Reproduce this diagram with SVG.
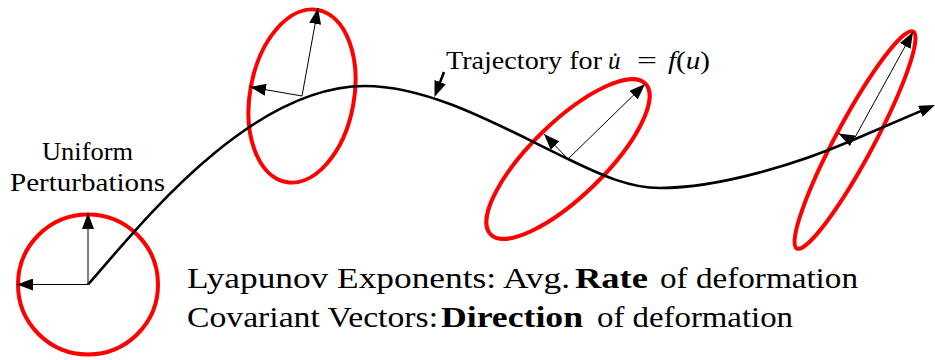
<svg xmlns="http://www.w3.org/2000/svg" width="935" height="360" viewBox="0 0 935 360">
<style>
.ell{fill:none;stroke:#ff0000;stroke-width:4}
.vec{stroke:#000;stroke-width:1;fill:none;marker-end:url(#ah)}
.traj{stroke:#000;stroke-width:2.6;fill:none;stroke-linecap:butt}
</style>
<defs>
<marker id="ah" viewBox="0 0 16 12" refX="16" refY="6" markerWidth="16" markerHeight="12" markerUnits="userSpaceOnUse" orient="auto"><path d="M0,0 L16,6 L0,12 Z" fill="#000"/></marker>
<marker id="ahk" viewBox="0 0 16 12" refX="10" refY="6" markerWidth="16" markerHeight="12" markerUnits="userSpaceOnUse" orient="auto"><path d="M0,0 L16,6 L0,12 Z" fill="#000"/></marker>
</defs>

<g id="perturb-circle">
<circle class="ell" cx="88" cy="284.5" r="70"/>
</g>
<g id="ellipse-2">
<ellipse class="ell" cx="302" cy="96" rx="52" ry="87.5" transform="rotate(10.4 302 96)"/>
</g>
<g id="ellipse-3">
<ellipse class="ell" cx="568" cy="159" rx="108" ry="37" transform="rotate(-44.2 568 159)"/>
</g>
<g id="ellipse-4">
<ellipse class="ell" cx="855" cy="140" rx="123" ry="19" transform="rotate(-61.8 855 140)"/>
</g>

<g id="connectors">
<path id="trajectory" class="traj" d="M88,284.5 C130,238 245,86 365,86 C430,86 500,126 568,159 C603,176 630,188 660,188 C720,188 800,163 853,140 L929.5,107.4" marker-end="url(#ahk)"/>
<line class="traj" x1="444" y1="72" x2="436.6" y2="91.4" marker-end="url(#ahk)"/>
</g>

<g id="vectors">
<line class="vec" x1="88" y1="284.5" x2="88" y2="213"/>
<line class="vec" x1="88" y1="284.5" x2="17" y2="284.5"/>
<line class="vec" x1="302" y1="96" x2="318" y2="8"/>
<line class="vec" x1="302" y1="96" x2="250" y2="87"/>
<line class="vec" x1="568" y1="159" x2="645" y2="84"/>
<line class="vec" x1="568" y1="159" x2="544" y2="134"/>
<line class="vec" x1="853" y1="141" x2="913" y2="32"/>
<line class="vec" x1="853" y1="141" x2="838.5" y2="133.5"/>
</g>

<g id="label-uniform">
<text x="42" y="160" font-size="25" font-family="'Liberation Serif', serif" textLength="91" lengthAdjust="spacingAndGlyphs">Uniform</text>
<text x="10" y="191" font-size="25" font-family="'Liberation Serif', serif" textLength="155" lengthAdjust="spacingAndGlyphs">Perturbations</text>
</g>

<g id="label-trajectory">
<text x="446" y="69.3" font-size="25" font-family="'Liberation Serif', serif" textLength="156" lengthAdjust="spacingAndGlyphs">Trajectory for</text>
<text x="608" y="69.3" font-size="25" font-family="'Liberation Serif', serif" font-style="italic">u&#775;</text>
<text x="637" y="69.3" font-size="25" font-family="'Liberation Serif', serif" textLength="20" lengthAdjust="spacingAndGlyphs">=</text>
<text x="668" y="69.3" font-size="25" font-family="'Liberation Serif', serif" textLength="42" lengthAdjust="spacingAndGlyphs"><tspan font-style="italic">f</tspan>(<tspan font-style="italic">u</tspan>)</text>
</g>

<g id="label-summary">
<text x="187" y="288.3" font-size="30" font-family="'Liberation Serif', serif" textLength="383" lengthAdjust="spacingAndGlyphs">Lyapunov Exponents: Avg.</text>
<text x="575" y="288.3" font-size="30" font-family="'Liberation Serif', serif" font-weight="bold" textLength="73" lengthAdjust="spacingAndGlyphs">Rate</text>
<text x="660" y="288.3" font-size="30" font-family="'Liberation Serif', serif" textLength="198" lengthAdjust="spacingAndGlyphs">of deformation</text>
<text x="187" y="327" font-size="30" font-family="'Liberation Serif', serif" textLength="251" lengthAdjust="spacingAndGlyphs">Covariant Vectors:</text>
<text x="441" y="327" font-size="30" font-family="'Liberation Serif', serif" font-weight="bold" textLength="142" lengthAdjust="spacingAndGlyphs">Direction</text>
<text x="597" y="327" font-size="30" font-family="'Liberation Serif', serif" textLength="196" lengthAdjust="spacingAndGlyphs">of deformation</text>
</g>
</svg>
